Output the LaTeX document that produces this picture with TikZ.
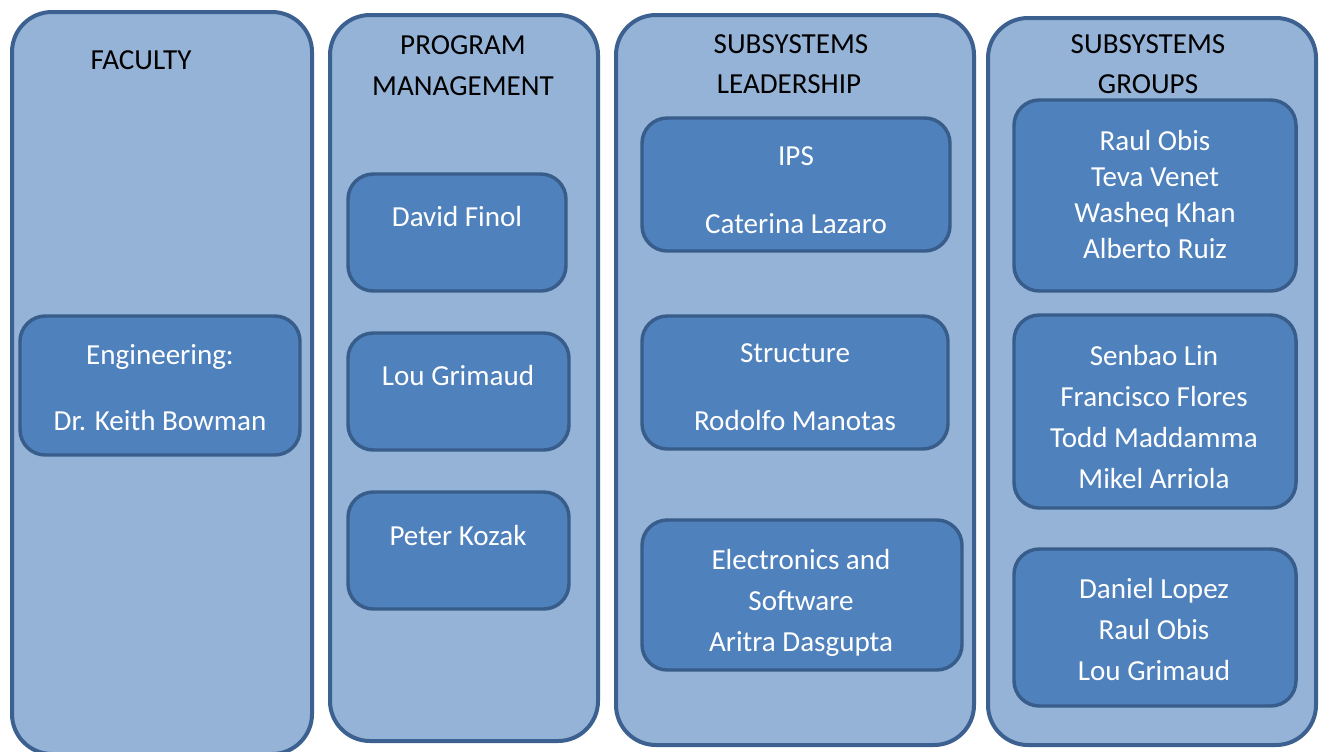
\documentclass[tikz,border=0pt]{standalone}
\usepackage{fontspec}
\setmainfont{Carlito}
\definecolor{panelfill}{HTML}{95B3D7}
\definecolor{panelline}{HTML}{3C6190}
\definecolor{cardfill}{HTML}{4F81BD}
\definecolor{cardline}{HTML}{385D8A}
\newcommand{\hdfont}{\fontsize{21.8}{25}\selectfont}
\begin{document}
\begin{tikzpicture}[x=0.75pt,y=-0.75pt,
  panelbox/.style={draw=panelline,fill=panelfill,line width=3pt,rounded corners=30pt,inner sep=0pt},
  cardbox/.style={draw=cardline,fill=cardfill,line width=2.6pt,rounded corners=19pt,inner sep=0pt},
  headtext/.style={font=\hdfont,text=black,inner sep=0pt,text height=18pt,text depth=4.5pt},
  cardtext/.style={font=\hdfont,text=white,inner sep=0pt,text height=18pt,text depth=4.5pt}]
  \newcommand{\boxfrom}[6]{\node[#1,minimum width={(#5-#3)*0.75pt},minimum height={(#6-#4)*0.75pt}] (#2) at ({(#3+#5)/2},{(#4+#6)/2}) {};}
  \useasboundingbox (0,0) rectangle (1320,751);
  % columns
  \boxfrom{panelbox}{faculty}{12}{12}{312}{754}
  \boxfrom{panelbox}{program}{330}{15}{598}{741}
  \boxfrom{panelbox}{leaders}{616}{15}{974}{745}
  \boxfrom{panelbox}{groups}{988}{18}{1316}{745}
  \node[headtext] (facultyhd) at (141,60) {FACULTY};
  \node[headtext] (programhd1) at (463,45) {PROGRAM};
  \node[headtext] (programhd2) at (463,86) {MANAGEMENT};
  \node[headtext] (leadershd1) at (791,44) {SUBSYSTEMS};
  \node[headtext] (leadershd2) at (789,84) {LEADERSHIP};
  \node[headtext] (groupshd1) at (1148,44) {SUBSYSTEMS};
  \node[headtext] (groupshd2) at (1148,84) {GROUPS};
  % faculty
  \boxfrom{cardbox}{engineering}{20}{316}{300}{455}
  \node[cardtext] (eng1) at (160,355) {Engineering:};
  \node[cardtext] (eng2) at (160,421) {Dr. Keith Bowman};
  % program management
  \boxfrom{cardbox}{finol}{348}{174}{566}{291}
  \boxfrom{cardbox}{grimaud}{348}{333}{569}{450}
  \boxfrom{cardbox}{kozak}{348}{492}{569}{609}
  \node[cardtext] (finoltx) at (457,217) {David Finol};
  \node[cardtext] (grimaudtx) at (458,376) {Lou Grimaud};
  \node[cardtext] (kozaktx) at (458,536) {Peter Kozak};
  % subsystems leadership
  \boxfrom{cardbox}{ips}{642}{118}{950}{251}
  \node[cardtext] (ips1) at (796,156) {IPS};
  \node[cardtext] (ips2) at (796,224) {Caterina Lazaro};
  \boxfrom{cardbox}{structure}{642}{316}{948}{449}
  \node[cardtext] (str1) at (795,353) {Structure};
  \node[cardtext] (str2) at (795,421) {Rodolfo Manotas};
  \boxfrom{cardbox}{electronics}{642}{520}{962}{670}
  \node[cardtext] (ele1) at (801,560) {Electronics and};
  \node[cardtext] (ele2) at (801,601) {Software};
  \node[cardtext] (ele3) at (801,642) {Aritra Dasgupta};
  % subsystems groups
  \boxfrom{cardbox}{groupa}{1014}{100}{1296}{291}
  \node[cardtext] (ga1) at (1155,141) {Raul Obis};
  \node[cardtext] (ga2) at (1155,177) {Teva Venet};
  \node[cardtext] (ga3) at (1155,213) {Washeq Khan};
  \node[cardtext] (ga4) at (1155,249) {Alberto Ruiz};
  \boxfrom{cardbox}{groupb}{1014}{315}{1296}{508}
  \node[cardtext] (gb1) at (1154,356) {Senbao Lin};
  \node[cardtext] (gb2) at (1154,397) {Francisco Flores};
  \node[cardtext] (gb3) at (1154,438) {Todd Maddamma};
  \node[cardtext] (gb4) at (1154,479) {Mikel Arriola};
  \boxfrom{cardbox}{groupc}{1014}{549}{1296}{706}
  \node[cardtext] (gc1) at (1154,589) {Daniel Lopez};
  \node[cardtext] (gc2) at (1154,630) {Raul Obis};
  \node[cardtext] (gc3) at (1154,671) {Lou Grimaud};
\end{tikzpicture}
\end{document}
